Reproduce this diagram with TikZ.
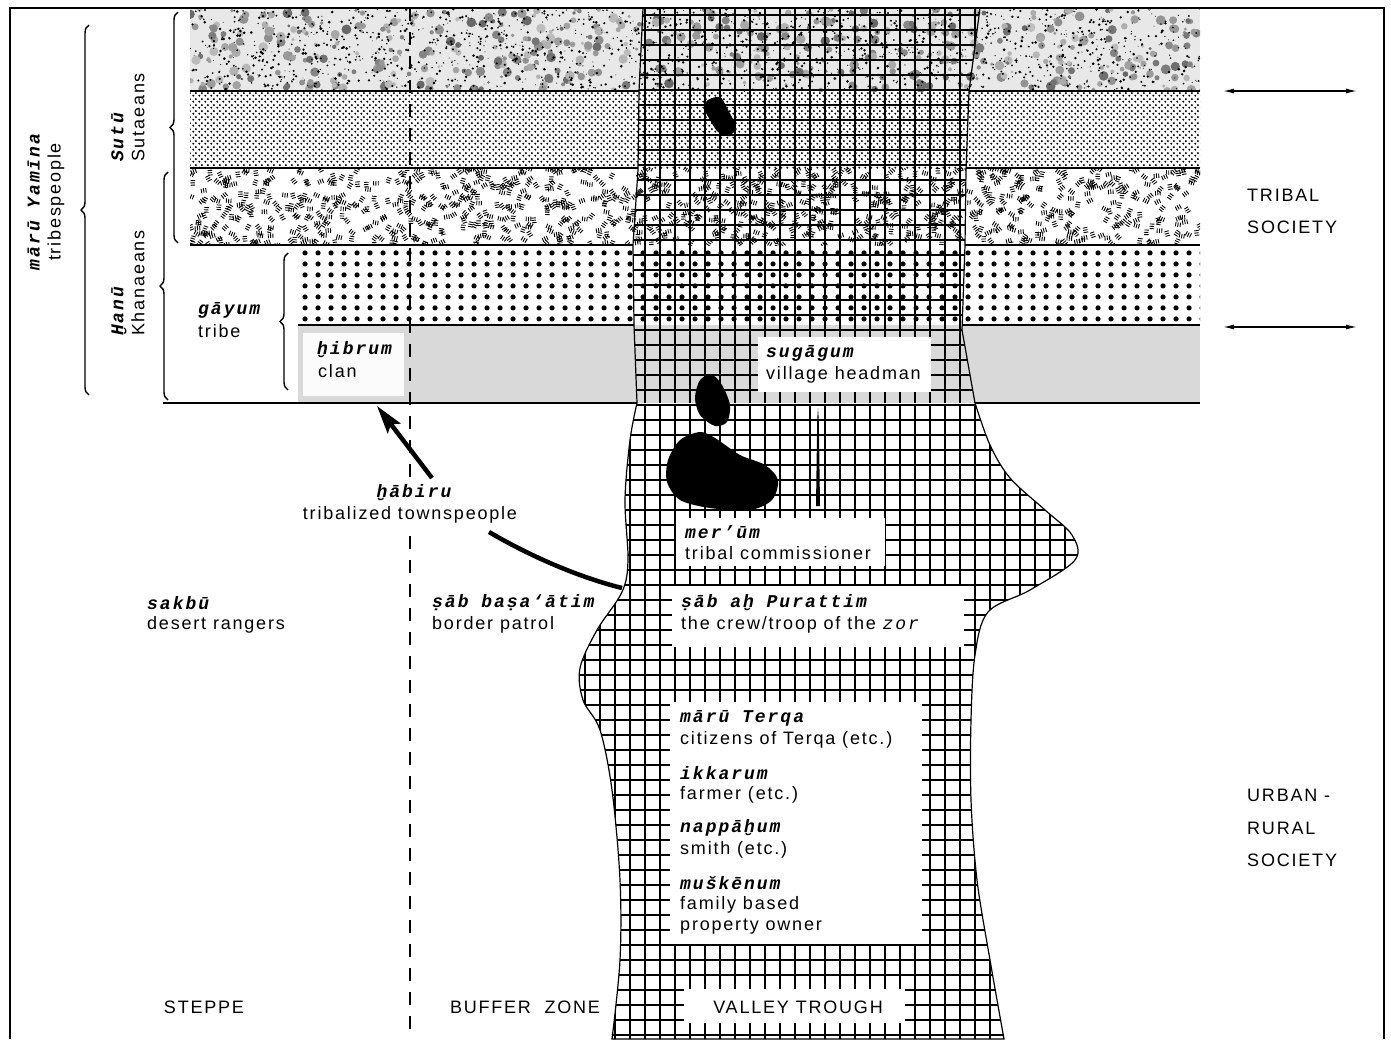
\documentclass[tikz,border=0pt]{standalone}
\usepackage{fontspec}
\setmainfont{Liberation Sans}[LetterSpace=10]
\newfontfamily\trlfont{Liberation Mono}[LetterSpace=11]
\usetikzlibrary{patterns.meta,decorations.pathreplacing,arrows.meta}
\newcommand\trl{\fontsize{18}{21}\selectfont\trlfont\bfseries\itshape}
\newcommand\trli{\fontsize{18}{21}\selectfont\trlfont\itshape}
\tikzdeclarepattern{name=finedots,type=uncolored,bounding box={(0pt,0pt) and (6pt,6pt)},tile size={(6pt,6pt)},
  code={\pgfpathcircle{\pgfpoint{1.5pt}{1.5pt}}{1.25pt}\pgfpathcircle{\pgfpoint{4.5pt}{4.5pt}}{1.25pt}\pgfusepath{fill}}}
\tikzdeclarepattern{name=coarsedots,type=uncolored,bounding box={(0pt,0pt) and (13pt,11pt)},tile size={(13pt,11pt)},
  code={\pgfpathcircle{\pgfpoint{6.5pt}{5.5pt}}{2.8pt}\pgfusepath{fill}}}
\tikzset{
  txt/.style={font=\fontsize{18}{21}\selectfont, inner sep=0pt},
  lbl/.style={txt, anchor=west},
  bandline/.style={line width=1.2pt},
  wbox/.style={fill=white, draw=none},
  bracestyle/.style={decorate, decoration={brace, amplitude=8pt}, line width=1.4pt},
  zoneline/.style={line width=1.3pt, dash pattern=on 13pt off 11pt},
  dbl/.style={line width=1.3pt, {Latex[length=11pt,width=5pt]}-{Latex[length=11pt,width=5pt]}},
  blob/.style={fill=black},
}
\begin{document}
\begin{tikzpicture}[x=1pt,y=-1pt]
\useasboundingbox (0,0) rectangle (1391,1039);
\fill[white] (0,0) rectangle (1391,1039);

% ---- band 1: speckled
\fill[gray!18] (190,9) rectangle (1200,91);
\begin{scope}
\clip (190,9) rectangle (1200,91);
\pgfmathsetseed{11}
\foreach \i in {1,...,550}{\pgfmathsetmacro\xx{190+1010*rnd}\pgfmathsetmacro\yy{9+82*rnd}\pgfmathsetmacro\rr{1.5+3.5*rnd}\pgfmathsetmacro\gg{25+35*rnd}\fill[black!\gg] (\xx,\yy) circle[radius=\rr pt];}
\foreach \i in {1,...,1800}{\pgfmathsetmacro\xx{190+1010*rnd}\pgfmathsetmacro\yy{9+82*rnd}\pgfmathsetmacro\rr{0.4+1.1*rnd}\fill[black] (\xx,\yy) circle[radius=\rr pt];}
\end{scope}
% ---- band 2: fine dots
\fill[pattern=finedots] (190,91) rectangle (1200,168);
% ---- band 3: dashes
\begin{scope}
\clip (190,168) rectangle (1200,245);
\pgfmathsetseed{5}
\foreach \i in {1,...,1000}{\pgfmathsetmacro\xx{190+1010*rnd}\pgfmathsetmacro\yy{168+77*rnd}\pgfmathsetmacro\aa{180*rnd}
  \draw[line width=0.9pt, rotate around={\aa:(\xx,\yy)}] (\xx-2.3,\yy-2) -- +(0,4.5) (\xx,\yy-2.3) -- +(0,4.5) (\xx+2.3,\yy-2) -- +(0,4.5);}
\end{scope}
% ---- band 4: coarse dots
\fill[pattern=coarsedots] (298,245) rectangle (1200,325);
% ---- band 5: grey
\fill[gray!30] (298,325) rectangle (1200,403);
\fill[white, opacity=.9] (303,333) rectangle (404,396);

% ---- central column
\def\colpath{(643,8) -- (639,91) -- (638,170) -- (633,245) -- (634,325) -- plot[smooth,tension=.55] coordinates{(637,403) (630,440) (625,500) (628,560) (622,592) (597,630) (580,668) (583,700) (600,730) (612,790) (620,880) (620,960) (612,1039)} -- plot[smooth,tension=.55] coordinates{(1004,1039) (990,960) (977,880) (971,800) (971,720) (975,655) (988,612) (1030,590) (1075,560) (1072,535) (1045,510) (1010,478) (990,445) (975,403)} -- (962,330) -- (965,245) -- (966,170) -- (969,91) -- (980,8) -- cycle}
\begin{scope}
\clip \colpath;
\fill[white] (550,403) rectangle (1100,1045);
\draw[line width=2.2pt, step=15pt] (555,0) grid (1095,403);
\draw[line width=1.5pt, step=15pt] (555,405) grid (1095,1050);
\end{scope}
\draw[line width=1.2pt] \colpath;

% band boundary lines
\draw[bandline] (190,91) -- (639,91) (969,91) -- (1200,91);
\draw[bandline] (190,168) -- (638,168) (966,168) -- (1200,168);
\draw[bandline] (190,245) -- (633,245) (965,245) -- (1200,245);
\draw[bandline] (298,325) -- (634,325) (962,325) -- (1200,325);
\draw[bandline] (163,403) -- (637,403) (975,403) -- (1200,403);

% zone divider
\draw[zoneline] (410,8) -- (410,1039);

% white label boxes
\fill[wbox] (758,337) rectangle (931,392);
\fill[wbox] (676,518) rectangle (885,566);
\fill[wbox] (672,586) rectangle (964,647);
\fill[wbox] (670,702) rectangle (922,944);
\fill[wbox] (684,989) rectangle (905,1023);

% black blobs
\fill[blob] plot[smooth cycle] coordinates{(708,100) (720,97) (727,108) (735,125) (730,136) (718,132) (710,120) (704,108)};
\fill[blob] plot[smooth cycle] coordinates{(700,380) (712,375) (722,385) (730,405) (727,422) (715,426) (700,415) (695,398)};
\fill[blob] plot[smooth cycle] coordinates{(680,440) (700,432) (715,438) (740,455) (765,465) (778,480) (772,500) (750,510) (710,508) (680,500) (667,482) (668,460)};
\fill (816,506) -- (817.2,420) -- (818,408) -- (818.8,420) -- (820,506) -- cycle;

% texts in column
\node[lbl] (suga) at (766,353) {\trl sugāgum};
\node[lbl] (head) at (766,375) {village headman};
\node[lbl] (meru) at (685,532) {\trl mer’ūm};
\node[lbl] (comm) at (685,553) {tribal commissioner};
\node[lbl] (sabp) at (681,603) {\trl ṣāb aḫ Purattim};
\node[lbl] (crew) at (681,625) {the crew/troop of the {\trli zor}};
\node[lbl] (mterqa) at (680,718) {\trl mārū Terqa};
\node[lbl] (citz) at (680,740) {citizens of Terqa (etc.)};
\node[lbl] (ikka) at (680,773) {\trl ikkarum};
\node[lbl] (farm) at (680,795) {farmer (etc.)};
\node[lbl] (nappa) at (680,828) {\trl nappāḫum};
\node[lbl] (smith) at (680,850) {smith (etc.)};
\node[lbl] (musk) at (680,883) {\trl muškēnum};
\node[lbl] (fam) at (680,905) {family based};
\node[lbl] (prop) at (680,927) {property owner};
\node[txt] (valley) at (798,1007) {VALLEY TROUGH};

% left side texts
\node[lbl] (sakbu) at (147,603) {\trl sakbū};
\node[lbl] (rangers) at (147,625) {desert rangers};
\node[lbl] (sabb) at (432,603) {\trl ṣāb baṣa‘ātim};
\node[lbl] (patrol) at (432,625) {border patrol};
\node[txt] (steppe) at (204,1007) {STEPPE};
\node[txt] (buffer) at (525,1007) {BUFFER\ \ ZONE};
\node[lbl] (gayum) at (198,310) {\trl gāyum};
\node[lbl] (tribe) at (198,331) {tribe};
\node[lbl] (hibrum) at (317,350) {\trl ḫibrum};
\node[lbl] (clan) at (318,371) {clan};
\node[txt, fill=white, inner sep=2pt] (habiru) at (414,493) {\trl ḫābiru};
\node[txt, fill=white, inner sep=2pt] (townsp) at (410,515) {tribalized townspeople};

% rotated labels and braces
\node[txt, rotate=90, align=center] (maryam) at (46,202) {{\trl mārū Yamīna}\\tribespeople};
\node[txt, rotate=90, anchor=west, align=left] (sutu) at (128,162) {{\trl Sutū}\\Sutaeans};
\node[txt, rotate=90, anchor=west, align=left] (hanu) at (128,336) {{\trl Ḫanū}\\Khanaeans};
\draw[bracestyle] (89,395) -- (89,25);
\draw[bracestyle] (178,243) -- (178,12);
\draw[bracestyle] (168,400) -- (168,172);
\draw[bracestyle] (288,390) -- (288,253);

% habiru arrows
\coordinate (habFrom) at (432,478);
\coordinate (habTip) at (377,406);
\draw[line width=4.5pt, -{Stealth[length=28pt,width=16pt,inset=5pt]}] (habFrom) -- (habTip);
\coordinate (curveStart) at (489,532);
\coordinate (colTouch) at (622,588);
\draw[line width=4.5pt] (curveStart) .. controls (530,556) and (578,577) .. (colTouch);

% right side
\coordinate (ra1) at (1223,91); \coordinate (rb1) at (1357,91);
\coordinate (ra2) at (1223,327); \coordinate (rb2) at (1357,327);
\draw[dbl] (ra1) -- (rb1);
\draw[dbl] (ra2) -- (rb2);
\node[lbl] (tribal) at (1247,195) {TRIBAL};
\node[lbl] (soc1) at (1247,227) {SOCIETY};
\node[lbl] (urban) at (1247,795) {URBAN -};
\node[lbl] (rural) at (1247,828) {RURAL};
\node[lbl] (soc2) at (1247,860) {SOCIETY};

% frame
\draw[line width=1.2pt] (10,1039) -- (10,8) -- (1384,8) -- (1384,1039);
\end{tikzpicture}
\end{document}
